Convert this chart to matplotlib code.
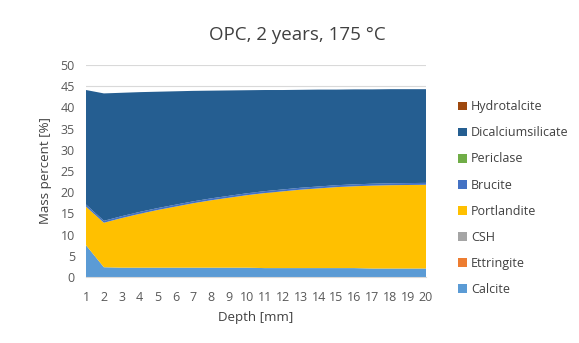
import matplotlib
matplotlib.use("Agg")
import matplotlib.pyplot as plt
import numpy as np

depth = list(range(1, 21))

calcite = [7.5, 2.3, 2.2, 2.2, 2.2, 2.2, 2.2, 2.2, 2.2, 2.2, 2.1, 2.1, 2.1, 2.1, 2.1, 2.1, 2.0, 2.0, 2.0, 2.0]
ettringite = [0.0] * 20
csh = [0.0] * 20
portlandite = [9.1, 10.5, 11.7, 12.7, 13.6, 14.4, 15.2, 15.9, 16.5, 17.1, 17.7, 18.1, 18.5, 18.8, 19.1, 19.3, 19.55, 19.65, 19.7, 19.75]
brucite = [0.5, 0.45, 0.45, 0.45, 0.45, 0.45, 0.45, 0.45, 0.45, 0.45, 0.45, 0.45, 0.45, 0.45, 0.45, 0.45, 0.45, 0.45, 0.45, 0.45]
periclase = [0.0] * 20
dicalciumsilicate = [27.0, 30.05, 29.1, 28.25, 27.45, 26.75, 26.05, 25.4, 24.85, 24.3, 23.85, 23.45, 23.1, 22.85, 22.55, 22.4, 22.25, 22.2, 22.15, 22.1]
hydrotalcite = [0.0] * 20

series = [
    ("Calcite", calcite, "#5B9BD5"),
    ("Ettringite", ettringite, "#ED7D31"),
    ("CSH", csh, "#A5A5A5"),
    ("Portlandite", portlandite, "#FFC000"),
    ("Brucite", brucite, "#4472C4"),
    ("Periclase", periclase, "#70AD47"),
    ("Dicalciumsilicate", dicalciumsilicate, "#255E91"),
    ("Hydrotalcite", hydrotalcite, "#9E480E"),
]

plt.rcParams['font.family'] = ['Open Sans', 'DejaVu Sans']

fig = plt.figure(figsize=(5.79, 3.43), dpi=100)
ax = fig.add_axes([86 / 579, 1 - 277 / 343, (426 - 86) / 579, (277 - 65) / 343])

ax.stackplot(depth, [s[1] for s in series], colors=[s[2] for s in series],
             labels=[s[0] for s in series], linewidth=0)

ax.set_xlim(1, 20)
ax.set_ylim(0, 50)
ax.set_yticks(np.arange(0, 51, 5))
ax.set_xticks(depth)
ax.yaxis.grid(True, color="#D9D9D9", linewidth=0.8)
ax.set_axisbelow(True)
for side in ("top", "right", "left"):
    ax.spines[side].set_visible(False)
ax.spines["bottom"].set_color("#D9D9D9")
ax.tick_params(axis="both", length=0, colors="#595959", labelsize=9)
ax.tick_params(axis="x", pad=10)
ax.tick_params(axis="y", pad=8)

ax.set_xlabel("Depth [mm]", fontsize=9.5, color="#404040", labelpad=5)
ax.set_ylabel("Mass percent [%]", fontsize=9.5, color="#404040", labelpad=6)
fig.text(297 / 579, 1 - 35 / 343, "OPC, 2 years, 175 °C",
         fontsize=13.5, color="#404040", ha="center", va="center")

handles, labels = ax.get_legend_handles_labels()
leg = fig.legend(handles[::-1], labels[::-1], loc="upper left",
                 bbox_to_anchor=(447 / 579, 1 - 89 / 343), frameon=False,
                 fontsize=9, handlelength=0.7, handleheight=0.7,
                 handletextpad=0.3, labelspacing=1.05, labelcolor="#404040")

fig.savefig("out.png", dpi=100)
